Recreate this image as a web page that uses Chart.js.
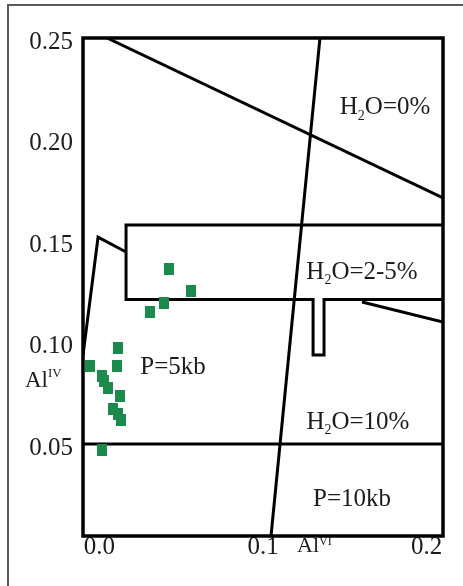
<!DOCTYPE html>
<html>
<head>
<meta charset="utf-8">
<script src="https://cdn.jsdelivr.net/npm/chart.js@4/dist/chart.umd.min.js"></script>
<style>
  html, body { margin: 0; padding: 0; background: #fff; }
  #wrap { position: relative; width: 463px; height: 586px; }
</style>
</head>
<body>
<div id="wrap"><canvas id="myChart" width="463" height="586"></canvas></div>
<script>
// tick labels
const xTicks = [0.0, 0.1, 0.2];
const yTicks = [0.05, 0.10, 0.15, 0.20, 0.25];

// sample points (AlVI, AlIV)
const samples = [
    [0.0426, 0.1364], [0.0560, 0.1255], [0.0395, 0.1196], [0.0309, 0.1152],
    [0.0114, 0.0975], [-0.0057, 0.0886], [0.0108, 0.0886], [0.0016, 0.0837],
    [0.0028, 0.0813], [0.0053, 0.0778], [0.0126, 0.0739], [0.0083, 0.0675],
    [0.0114, 0.0650], [0.0132, 0.0621], [0.0016, 0.0473]
];

// boundary lines of the diagram
const lineH2O0 = [[0.0047, 0.25], [0.21, 0.1713]];
const lineP = [[0.1049, 0.005], [0.1348, 0.25]];
const boxH2O25 = [[0.21, 0.158], [0.0163, 0.158], [0.0163, 0.1213], [0.1306, 0.1213],
    [0.1306, 0.094], [0.1373, 0.094], [0.1373, 0.1213], [0.21, 0.1213]];
const lineLeft = [[-0.01, 0.094], [-0.0008, 0.152], [0.0163, 0.1447]];
const lineRight = [[0.1605, 0.1201], [0.21, 0.1103]];
const line10 = [[-0.01, 0.0503], [0.21, 0.0503]];

// field labels
const fieldText = ['H_{2}O=0%', 'H_{2}O=2-5%', 'P=5kb', 'H_{2}O=10%', 'P=10kb'];
const fieldX = [0.1746, 0.1605, 0.0450, 0.1580, 0.1544];
const fieldY = [0.2165, 0.1354, 0.0886, 0.0616, 0.0237];

const toXY = arr => arr.map(p => ({x: p[0], y: p[1]}));

const SERIF = '"Liberation Serif", "Times New Roman", serif';
const TXT = '#1c1c1c';

// green rectangle marker
const mark = document.createElement('canvas');
mark.width = 10; mark.height = 12;
const mc = mark.getContext('2d');
mc.fillStyle = '#1b8a4c';
mc.fillRect(0, 0, 10, 12);

function parseRich(s) {
    const out = [];
    const re = /([_^])\{([^}]*)\}/g;
    let last = 0, m;
    while ((m = re.exec(s))) {
        if (m.index > last) out.push({t: s.slice(last, m.index), k: ''});
        out.push({t: m[2], k: m[1]});
        last = re.lastIndex;
    }
    if (last < s.length) out.push({t: s.slice(last), k: ''});
    return out;
}

// draws text with sub/superscripts; x is center (or left), y is baseline
function drawRich(ctx, s, x, y, size, align, supShift) {
    const parts = parseRich(s);
    const small = Math.round(size * 0.56);
    let w = 0;
    parts.forEach(p => {
        ctx.font = (p.k ? small : size) + 'px ' + SERIF;
        p.w = ctx.measureText(p.t).width;
        w += p.w;
    });
    let cx = align === 'left' ? x : x - w / 2;
    ctx.textAlign = 'left';
    ctx.textBaseline = 'alphabetic';
    ctx.fillStyle = TXT;
    parts.forEach(p => {
        ctx.font = (p.k ? small : size) + 'px ' + SERIF;
        let dy = 0;
        if (p.k === '_') dy = size * 0.22;
        if (p.k === '^') dy = -size * (supShift || 0.42);
        ctx.fillText(p.t, cx, y + dy);
        cx += p.w;
    });
}

const decor = {
    id: 'decor',
    beforeDraw(chart) {
        const ctx = chart.ctx;
        ctx.save();
        ctx.strokeStyle = '#5a5a5a';
        ctx.lineWidth = 2;
        ctx.beginPath();
        ctx.moveTo(8, chart.height);
        ctx.lineTo(8, 5);
        ctx.lineTo(chart.width, 5);
        ctx.stroke();
        ctx.restore();
    },
    afterDatasetsDraw(chart) {
        const ctx = chart.ctx;
        const a = chart.chartArea;
        const xs = chart.scales.x, ys = chart.scales.y;
        ctx.save();
        ctx.strokeStyle = '#000';
        ctx.lineWidth = 3.5;
        ctx.strokeRect(a.left, a.top, a.right - a.left, a.bottom - a.top);
        for (let i = 0; i < fieldText.length; i++) {
            drawRich(ctx, fieldText[i], xs.getPixelForValue(fieldX[i]),
                ys.getPixelForValue(fieldY[i]) + 8, 25, 'center');
        }
        // axis titles
        drawRich(ctx, 'Al^{IV}', a.left - 58, ys.getPixelForValue(0.0817) + 7, 23, 'left', 0.42);
        drawRich(ctx, 'Al^{VI}', xs.getPixelForValue(0.1208), a.bottom + 16, 22, 'left', 0.3);
        ctx.restore();
    }
};

const lineSet = (pts) => ({
    data: toXY(pts),
    showLine: true,
    borderColor: '#000',
    borderWidth: 3,
    pointRadius: 0,
    fill: false,
    tension: 0
});

const config = {
    type: 'scatter',
    data: {
        datasets: [
            {
                data: toXY(samples),
                pointStyle: mark,
                pointRadius: 6,
                showLine: false
            },
            lineSet(lineH2O0),
            lineSet(lineP),
            lineSet(boxH2O25),
            lineSet(lineLeft),
            lineSet(lineRight),
            lineSet(line10)
        ]
    },
    options: {
        responsive: false,
        animation: false,
        layout: { padding: { top: 38, right: 20, left: 0, bottom: 0 } },
        plugins: { legend: { display: false }, tooltip: { enabled: false } },
        scales: {
            x: {
                type: 'linear',
                min: -0.01,
                max: 0.21,
                grid: { display: false, drawTicks: false },
                border: { display: false },
                afterBuildTicks: s => { s.ticks = xTicks.map(v => ({value: v})); },
                afterFit: s => { s.height = 50; },
                ticks: {
                    padding: -4,
                    color: TXT,
                    font: { family: SERIF, size: 25 },
                    callback: v => v.toFixed(1)
                }
            },
            y: {
                type: 'linear',
                min: 0.005,
                max: 0.25,
                grid: { display: false, drawTicks: false },
                border: { display: false },
                afterBuildTicks: s => { s.ticks = yTicks.map(v => ({value: v})); },
                afterFit: s => { s.width = 83; },
                ticks: {
                    padding: 10,
                    labelOffset: 4,
                    color: TXT,
                    font: { family: SERIF, size: 25 },
                    callback: v => v.toFixed(2)
                }
            }
        }
    },
    plugins: [decor]
};

const myChart = new Chart(document.getElementById('myChart'), config);
</script>
</body>
</html>
